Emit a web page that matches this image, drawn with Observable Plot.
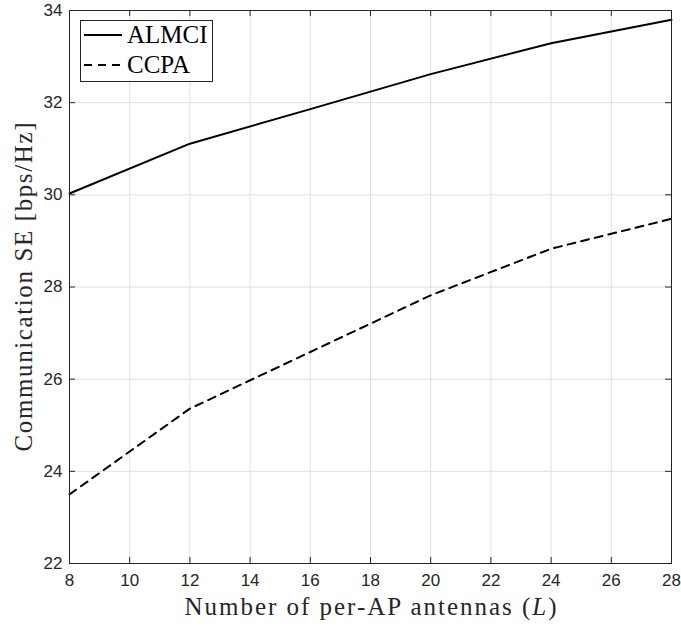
<!DOCTYPE html>
<html>
<head>
<meta charset="utf-8">
<script src="https://cdn.jsdelivr.net/npm/d3@7"></script>
<script src="https://cdn.jsdelivr.net/npm/@observablehq/plot@0.6"></script>
<style>
  html, body { margin: 0; padding: 0; background: #fff; }
  #chart svg { display: block; }
</style>
</head>
<body>
<div id="chart"></div>
<script>
const antennas = [8, 12, 16, 20, 24, 28];
const almci = [30.03, 31.11, 31.86, 32.62, 33.29, 33.80];
const ccpa = [23.50, 25.36, 26.59, 27.82, 28.83, 29.48];
const seriesNames = ["ALMCI", "CCPA"];
const xTicks = [8, 10, 12, 14, 16, 18, 20, 22, 24, 26, 28];
const yTicks = [22, 24, 26, 28, 30, 32, 34];
const xLabel = "Number of per-AP antennas (";
const yLabel = "Communication SE [bps/Hz]";

const W = 681, H = 626;
const mL = 69, mR = 10, mT = 10, mB = 63;
const innerW = W - mL - mR, innerH = H - mT - mB;
const tickLen = 6;
const axisColor = "#262626";
const serif = "'Liberation Serif', 'Times New Roman', serif";

const rowsA = antennas.map((L, i) => ({L, se: almci[i], s: seriesNames[0]}));
const rowsC = antennas.map((L, i) => ({L, se: ccpa[i], s: seriesNames[1]}));

const svg = Plot.plot({
  width: W, height: H,
  marginLeft: mL, marginRight: mR, marginTop: mT, marginBottom: mB,
  style: {fontFamily: "'Liberation Sans', Arial, sans-serif", fontSize: "17px", color: axisColor, background: "#fff"},
  x: {domain: [8, 28]},
  y: {domain: [22, 34]},
  marks: [
    Plot.gridX(xTicks, {stroke: "#e0e0e0", strokeOpacity: 1, strokeWidth: 1}),
    Plot.gridY(yTicks, {stroke: "#e0e0e0", strokeOpacity: 1, strokeWidth: 1}),
    Plot.line(rowsA, {x: "L", y: "se", stroke: "black", strokeWidth: 2}),
    Plot.line(rowsC, {x: "L", y: "se", stroke: "black", strokeWidth: 2, strokeDasharray: "8,6"}),
    Plot.frame({stroke: axisColor, strokeWidth: 1}),
    Plot.tickX(xTicks, {x: d => d, stroke: axisColor, insetTop: innerH - tickLen}),
    Plot.tickX(xTicks, {x: d => d, stroke: axisColor, insetBottom: innerH - tickLen}),
    Plot.tickY(yTicks, {y: d => d, stroke: axisColor, insetRight: innerW - tickLen}),
    Plot.tickY(yTicks, {y: d => d, stroke: axisColor, insetLeft: innerW - tickLen}),
    Plot.axisX({ticks: xTicks, tickSize: 0, tickPadding: 10, label: null, fontSize: 17}),
    Plot.axisY({ticks: yTicks, tickSize: 0, tickPadding: 7, label: null, fontSize: 17}),
    Plot.text([xLabel], {text: d => d, frameAnchor: "bottom", textAnchor: "middle", dy: 51, fontFamily: serif, fontSize: 25, fill: axisColor, className: "xlab"}),
    Plot.text([yLabel], {text: d => d, frameAnchor: "left", textAnchor: "middle", dx: -46, rotate: -90, fontFamily: serif, fontSize: 25, fill: axisColor, className: "ylab"})
  ]
});

// italic L in x label, and widen labels like the Computer Modern original
d3.select(svg).selectAll(".xlab text").each(function() {
  const t = d3.select(this);
  const txt = t.text();
  t.text(null);
  t.append("tspan").text(txt);
  t.append("tspan").attr("font-style", "italic").text("L");
  t.append("tspan").text(")");
  t.attr("textLength", 372).attr("lengthAdjust", "spacing");
});
d3.select(svg).selectAll(".ylab text").attr("textLength", 329).attr("lengthAdjust", "spacing");

// legend
const leg = d3.select(svg).append("g").attr("class", "legend");
leg.append("rect").attr("x", 80.5).attr("y", 20.5).attr("width", 132).attr("height", 61)
  .attr("fill", "#fff").attr("stroke", axisColor).attr("stroke-width", 1);
seriesNames.forEach((name, i) => {
  const y = 35 + i * 30;
  leg.append("line").attr("x1", 84).attr("x2", 122).attr("y1", y).attr("y2", y)
    .attr("stroke", "black").attr("stroke-width", 2)
    .attr("stroke-dasharray", i === 1 ? "8,6" : null);
  leg.append("text").attr("x", 127).attr("y", y).attr("dy", "0.3em")
    .attr("text-anchor", "start")
    .attr("font-family", serif).attr("font-size", 25).attr("fill", "black").text(name);
});

document.getElementById("chart").appendChild(svg);
</script>
</body>
</html>
